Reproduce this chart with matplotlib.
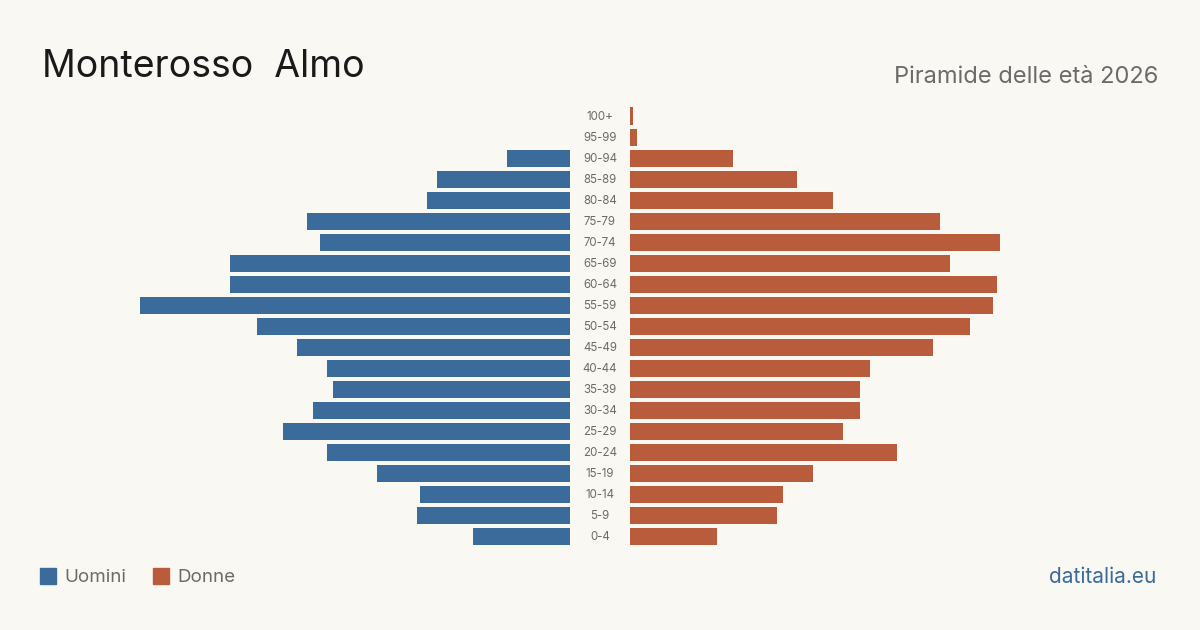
import matplotlib

matplotlib.use("Agg")

import matplotlib.pyplot as plt
from matplotlib.patches import Rectangle

plt.rcParams["font.family"] = ["Inter", "DejaVu Sans"]

# age classes, bottom to top
age_groups = [
    "0-4", "5-9", "10-14", "15-19", "20-24", "25-29", "30-34", "35-39",
    "40-44", "45-49", "50-54", "55-59", "60-64", "65-69", "70-74", "75-79",
    "80-84", "85-89", "90-94", "95-99", "100+",
]
men = [29, 46, 45, 58, 73, 86, 77, 71, 73, 82, 94, 129, 102, 102, 75, 79,
       43, 40, 19, 0, 0]
women = [26, 44, 46, 55, 80, 64, 69, 69, 72, 91, 102, 109, 110, 96, 111, 93,
         61, 50, 31, 2, 1]

title = "Monterosso  Almo"
subtitle = "Piramide delle età 2026"
source = "datitalia.eu"

BLUE = "#3b6b9b"
ORANGE = "#b85c3c"
BG = "#f9f8f3"
GREY = "#6b6b6b"

W, H = 1200, 630
fig = plt.figure(figsize=(W / 100, H / 100), dpi=100)
fig.patch.set_facecolor(BG)

# chart axes: x in persons, 0.3 persons per pixel, centred on the figure
px_per_unit = 10 / 3
half_span = (W / 2) / px_per_unit
gap = 30 / px_per_unit
ax = fig.add_axes([0, (H - 546.5) / H, 1, 441 / H])
ax.set_facecolor("none")
ax.set_xlim(-half_span, half_span)
ax.set_ylim(-0.5, len(age_groups) - 0.5)
ax.axis("off")

ypos = range(len(age_groups))
ax.barh(ypos, [-m for m in men], left=-gap, height=17 / 21, color=BLUE)
ax.barh(ypos, women, left=gap, height=17 / 21, color=ORANGE)
for y, label in zip(ypos, age_groups):
    ax.text(0, y - 0.07, label, ha="center", va="center", fontsize=8.3,
            color=GREY)

fig.text(42 / W, 1 - 67 / H, title, fontsize=27, color="#1a1a1a",
         ha="left", va="center")
fig.text(1158 / W, 1 - 77 / H, subtitle, fontsize=17, color=GREY,
         ha="right", va="center")

# legend
for x0, col, lab in [(40, BLUE, "Uomini"), (153, ORANGE, "Donne")]:
    fig.patches.append(Rectangle((x0 / W, 1 - 584 / H), 16 / W, 16 / H,
                                 transform=fig.transFigure, color=col))
    fig.text((x0 + 24) / W, 1 - 577.5 / H, lab, fontsize=13.5, color=GREY,
             ha="left", va="center")

fig.text(1156 / W, 1 - 577 / H, source, fontsize=15, color=BLUE,
         ha="right", va="center")

fig.savefig("out.png", dpi=100, facecolor=BG)
plt.close(fig)
